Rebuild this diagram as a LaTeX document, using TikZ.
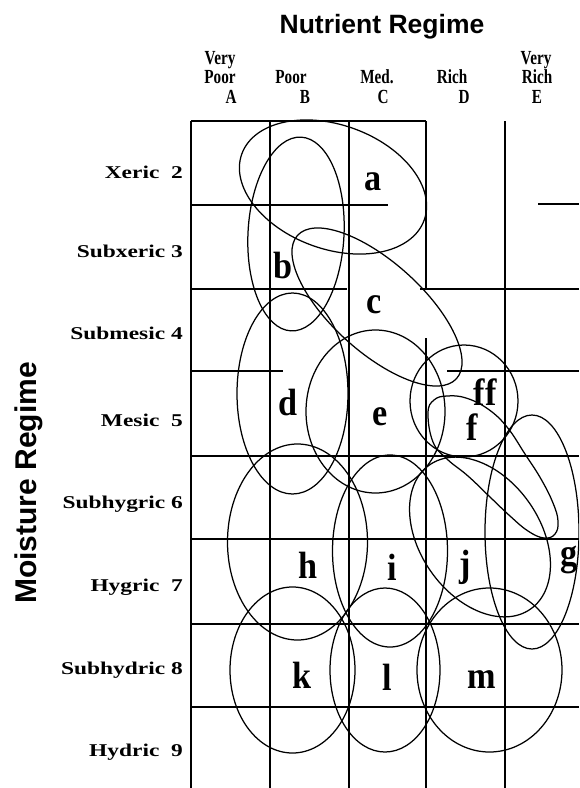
\documentclass[tikz,border=0pt]{standalone}
\usepackage{fontspec}
\setmainfont{Liberation Serif}
\newfontfamily\titlefont{Liberation Sans}
\usepackage{graphicx}
\begin{document}
\begin{tikzpicture}[x=1pt,y=-1pt,
  gridline/.style={line width=1.2pt, black},
  gridthick/.style={line width=1.8pt, black},
  zone/.style={line width=1.25pt, black},
  rowlab/.style={anchor=base east, inner sep=0pt, font=\fontsize{18}{18}\selectfont\bfseries},
  collab/.style={anchor=base, inner sep=0pt, font=\fontsize{20}{20}\selectfont\bfseries},
  zonelab/.style={inner sep=0pt, font=\fontsize{38}{38}\selectfont\bfseries},
  titlelab/.style={inner sep=0pt, anchor=base, font=\titlefont\bfseries}]

\useasboundingbox (0,0) rectangle (579,788);
\clip (0,0) rectangle (579,788);
\fill[white] (0,0) rectangle (579,788);

% grid: vertical lines
\draw[gridthick] (191,121) -- (191,788);
\draw[gridline] (270,121) -- (270,788);
\draw[gridline] (349,121) -- (349,788);
\draw[gridline] (426,121) -- (426,289);
\draw[gridline] (426,338) -- (426,788);
\draw[gridline] (505,121) -- (505,788);
% grid: horizontal lines
\draw[gridline] (191,121) -- (426,121);
\draw[gridline] (191,205) -- (388,205);
\draw[gridline] (538,204) -- (579,204);
\draw[gridline] (191,289) -- (347,289);
\draw[gridline] (420,289) -- (579,289);
\draw[gridline] (191,371) -- (283,371);
\draw[gridline] (447,371) -- (579,371);
\draw[gridline] (191,456) -- (579,456);
\draw[gridthick] (191,539) -- (579,539);
\draw[gridline] (191,624) -- (579,624);
\draw[gridline] (191,707) -- (579,707);

% zones
\draw[zone, rotate around={-20:(333,187)}] (333,187) ellipse [x radius=97, y radius=62];
\draw[zone, rotate around={-3:(296,234)}] (296,234) ellipse [x radius=48, y radius=97];
\draw[zone, rotate around={-42:(377,307)}] (377,307) ellipse [x radius=107, y radius=45];
\draw[zone] (292.5,393.5) ellipse [x radius=55.5, y radius=100.5];
\draw[zone] (375.5,411.5) ellipse [x radius=69.5, y radius=81.5];
\draw[zone] (464,401) ellipse [x radius=54, y radius=56];
\draw[zone] plot[smooth cycle, tension=0.7] coordinates {(428,413) (434,400) (447,396) (466,398) (488,409) (507,427) (525,454) (541,479) (553,503) (558,521) (555,534) (544,538) (528,531) (510,516) (490,497) (468,476) (447,459) (433,442)};
\draw[zone] (532,532) ellipse [x radius=47, y radius=117];
\draw[zone] (297.5,542) ellipse [x radius=70, y radius=98];
\draw[zone] (390,551) ellipse [x radius=57.5, y radius=96];
\draw[zone, rotate around={-55:(480,537)}] (480,537) ellipse [x radius=88, y radius=60];
\draw[zone] (292.5,670) ellipse [x radius=62.5, y radius=83];
\draw[zone] (385,670) ellipse [x radius=55, y radius=82];
\draw[zone] (489.5,670) ellipse [x radius=72.5, y radius=82];

% zone labels
\node[zonelab] (za) at (373,182) {\scalebox{0.9}[1]{a}};
\node[zonelab] (zb) at (283,265) {\scalebox{0.9}[1]{b}};
\node[zonelab] (zc) at (374,305) {\scalebox{0.9}[1]{c}};
\node[zonelab] (zd) at (288,402) {\scalebox{0.9}[1]{d}};
\node[zonelab] (ze) at (380,417) {\scalebox{0.9}[1]{e}};
\node[zonelab] (zff) at (485,392) {\scalebox{0.9}[1]{ff}};
\node[zonelab] (zf) at (472,427) {\scalebox{0.9}[1]{f}};
\node[zonelab] (zg) at (569,560) {\scalebox{0.9}[1]{g}};
\node[zonelab] (zh) at (308,565) {\scalebox{0.9}[1]{h}};
\node[zonelab] (zi) at (392,567) {\scalebox{0.9}[1]{i}};
\node[zonelab] (zj) at (465,567) {\scalebox{0.9}[1]{j}};
\node[zonelab] (zk) at (302,675) {\scalebox{0.9}[1]{k}};
\node[zonelab] (zl) at (387,677) {\scalebox{0.9}[1]{l}};
\node[zonelab] (zm) at (482,680) {\scalebox{0.9}[1]{m}};

% row labels
\node[rowlab] (r2) at (183,178) {\scalebox{1.3}[1]{Xeric~~2}};
\node[rowlab] (r3) at (183,257) {\scalebox{1.3}[1]{Subxeric 3}};
\node[rowlab] (r4) at (183,339) {\scalebox{1.3}[1]{Submesic 4}};
\node[rowlab] (r5) at (183,426) {\scalebox{1.3}[1]{Mesic~~5}};
\node[rowlab] (r6) at (183,508) {\scalebox{1.3}[1]{Subhygric 6}};
\node[rowlab] (r7) at (183,591) {\scalebox{1.3}[1]{Hygric~~7}};
\node[rowlab] (r8) at (183,674) {\scalebox{1.3}[1]{Subhydric 8}};
\node[rowlab] (r9) at (183,756) {\scalebox{1.3}[1]{Hydric~~9}};

% column labels
\node[collab] (ca1) at (220,64) {\scalebox{0.76}[1]{Very}};
\node[collab] (ca2) at (220,83.5) {\scalebox{0.76}[1]{Poor}};
\node[collab] (ca3) at (231,103.5) {\scalebox{0.76}[1]{A}};
\node[collab] (cb2) at (291,83.5) {\scalebox{0.76}[1]{Poor}};
\node[collab] (cb3) at (305,103.5) {\scalebox{0.76}[1]{B}};
\node[collab] (cc2) at (377,83.5) {\scalebox{0.76}[1]{Med.}};
\node[collab] (cc3) at (383,103.5) {\scalebox{0.76}[1]{C}};
\node[collab] (cd2) at (452,83.5) {\scalebox{0.76}[1]{Rich}};
\node[collab] (cd3) at (464,103.5) {\scalebox{0.76}[1]{D}};
\node[collab] (ce1) at (536,64) {\scalebox{0.76}[1]{Very}};
\node[collab] (ce2) at (537,83.5) {\scalebox{0.76}[1]{Rich}};
\node[collab] (ce3) at (537,103.5) {\scalebox{0.76}[1]{E}};

% titles
\node[titlelab, font=\titlefont\bfseries\fontsize{26.5}{26.5}\selectfont] (tn) at (382,33) {Nutrient Regime};
\node[titlelab, font=\titlefont\bfseries\fontsize{30}{30}\selectfont, rotate=90] (tm) at (36,483) {Moisture Regime};
\end{tikzpicture}
\end{document}
